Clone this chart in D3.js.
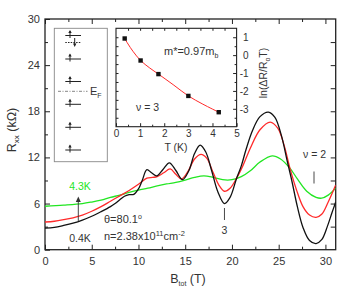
<!DOCTYPE html>
<html lang="en">
<head>
	<meta charset="UTF-8">
	<title>Rxx vs Btot</title>
	<script src="https://cdn.jsdelivr.net/npm/d3@7"></script>
	<style>
		body { margin: 0; background: #fff; }
		text { font-family: "Liberation Sans", Arial, sans-serif; fill: #333; }
		.axis path { stroke: none; fill: none; }
		.axis line { stroke: #222; }
	</style>
</head>
<body>
	<div id="container"></div>
	<script>
		// main traces, B (T) -> Rxx (kOhm)
		var b_black = [0, 1, 2, 3, 4, 5, 6, 7, 7.5, 8, 8.5, 9, 9.5, 10, 10.4, 10.9, 11.4, 11.95, 12.6, 13.3, 14, 14.7, 15.4, 16, 16.6, 17.2, 17.8, 18.5, 19.2, 19.8, 20.5, 21, 21.5, 22.2, 23, 23.9, 24.6, 25.3, 25.9, 26.4, 27, 27.6, 28.3, 29, 29.6, 30.2, 30.7, 31.1];
		var r_black = [2.8, 2.9, 3.15, 3.45, 3.85, 4.35, 4.95, 5.6, 6.0, 6.5, 6.95, 7.15, 7.2, 7.9, 9.0, 10.4, 10.0, 9.6, 10.4, 11.3, 10.3, 9.1, 10.3, 12.5, 13.6, 12.7, 10.4, 7.5, 6.0, 6.8, 9.3, 10.9, 13.0, 15.5, 17.3, 17.9, 17.2, 14.8, 11.6, 9.0, 5.6, 2.9, 1.2, 0.8, 1.3, 3.0, 4.8, 6.2];

		var b_red = [0, 1, 2, 3, 4, 5, 6, 7, 8, 9, 10, 10.9, 11.5, 12, 12.7, 13.4, 14, 14.6, 15.3, 16, 16.7, 17.3, 18, 18.6, 19.2, 19.8, 20.5, 21.2, 22, 23, 24.1, 24.9, 25.6, 26.2, 26.9, 27.6, 28.3, 29, 29.6, 30.3, 31.1];
		var r_red = [3.6, 3.7, 3.9, 4.15, 4.5, 5.0, 5.6, 6.3, 7.0, 7.7, 8.5, 9.3, 9.4, 9.5, 10.0, 10.5, 9.8, 9.2, 10.2, 11.8, 12.4, 11.9, 10.0, 8.4, 7.6, 8.0, 9.3, 11.0, 13.3, 15.6, 16.6, 15.8, 13.5, 10.6, 7.8, 5.6, 4.5, 4.2, 4.6, 6.2, 8.4];

		var b_green = [0, 2, 4, 5, 6, 7, 8, 9, 10, 11, 12, 13, 14, 15, 16, 17, 18, 19, 20, 21, 22, 23, 24.3, 25.2, 26.2, 27, 28, 29, 29.6, 30.3, 31.1];
		var r_green = [5.65, 5.8, 6.0, 6.2, 6.45, 6.8, 7.1, 7.45, 7.75, 8.0, 8.3, 8.55, 8.75, 9.05, 9.4, 9.6, 9.4, 9.1, 9.1, 9.5, 10.3, 11.4, 12.2, 11.8, 10.6, 9.2, 7.6, 6.8, 6.7, 7.1, 8.0];

		// inset: T (K) -> ln(dR/R0T)
		var t_pts = [0.36, 1.02, 1.76, 3.0, 4.26];
		var ln_pts = [0.93, -0.30, -1.06, -2.28, -3.19];
		var t_fit = [0.36, 0.5, 0.7, 1.02, 1.4, 1.76, 2.4, 3.0, 3.6, 4.26];
		var ln_fit = [0.93, 0.62, 0.22, -0.30, -0.72, -1.06, -1.68, -2.28, -2.74, -3.19];

		var x_ticks = [0, 5, 10, 15, 20, 25, 30];
		var y_ticks = [0, 6, 12, 18, 24, 30];
		var tx_ticks = [0, 1, 2, 3, 4, 5];
		var ty_ticks = [1, 0, -1, -2, -3];

		width = 355;
		height = 290;
		var svg = d3.select("#container").append("svg")
				.attr("width", width)
				.attr("height", height);

		var x = d3.scaleLinear().domain([0, 31.1]).range([45, 335.7]);
		var y = d3.scaleLinear().domain([0, 30]).range([249.7, 19]);

		function zip(a, b) { return a.map((d, i) => [d, b[i]]); }
		var plain = d => String(d);

		// main axes, ticks pointing in
		svg.append("g").attr("class", "axis")
				.attr("transform", "translate(0," + y(0) + ")")
				.call(d3.axisBottom(x).tickValues(x_ticks).tickFormat(plain).tickSize(-5).tickPadding(7.5))
				.selectAll("text").style("font-size", "11px");
		svg.append("g").attr("class", "axis")
				.attr("transform", "translate(0," + y(0) + ")")
				.call(d3.axisBottom(x).tickValues(d3.range(2.5, 31, 5)).tickSize(-3).tickFormat(""));
		svg.append("g").attr("class", "axis")
				.attr("transform", "translate(0," + y(30) + ")")
				.call(d3.axisTop(x).tickValues(x_ticks).tickSize(-5).tickFormat(""));
		svg.append("g").attr("class", "axis")
				.attr("transform", "translate(0," + y(30) + ")")
				.call(d3.axisTop(x).tickValues(d3.range(2.5, 31, 5)).tickSize(-3).tickFormat(""));

		svg.append("g").attr("class", "axis")
				.attr("transform", "translate(" + x(0) + ",0)")
				.call(d3.axisLeft(y).tickValues(y_ticks).tickFormat(plain).tickSize(-5).tickPadding(5))
				.selectAll("text").style("font-size", "11px");
		svg.append("g").attr("class", "axis")
				.attr("transform", "translate(" + x(0) + ",0)")
				.call(d3.axisLeft(y).tickValues(d3.range(3, 30, 6)).tickSize(-3).tickFormat(""));
		svg.append("g").attr("class", "axis")
				.attr("transform", "translate(" + x(31.1) + ",0)")
				.call(d3.axisRight(y).tickValues(d3.range(3, 30, 3)).tickSize(-5).tickFormat(""));

		svg.append("rect")
				.attr("x", x(0)).attr("y", y(30))
				.attr("width", x(31.1) - x(0)).attr("height", y(0) - y(30))
				.attr("fill", "none").attr("stroke", "#222").attr("stroke-width", 1.3);

		// curves
		var line = d3.line()
				.x(d => x(d[0]))
				.y(d => y(d[1]))
				.curve(d3.curveCatmullRom);

		svg.append("clipPath").attr("id", "clip")
				.append("rect")
				.attr("x", x(0)).attr("y", y(30))
				.attr("width", x(31.1) - x(0)).attr("height", y(0) - y(30));

		var traces = [
			{ pts: zip(b_green, r_green), color: "#22e622" },
			{ pts: zip(b_red, r_red), color: "#ff2a2a" },
			{ pts: zip(b_black, r_black), color: "#111" }
		];
		svg.append("g").attr("clip-path", "url(#clip)")
			.selectAll(".trace").data(traces)
			.enter().append("path")
				.attr("class", "trace")
				.attr("d", d => line(d.pts))
				.attr("fill", "none")
				.attr("stroke", d => d.color)
				.attr("stroke-width", 1.3);

		// axis labels
		var yl = svg.append("text")
				.attr("transform", "translate(16,130) rotate(-90)")
				.attr("text-anchor", "middle")
				.style("font-size", "12.5px");
		yl.append("tspan").text("R");
		yl.append("tspan").attr("dy", 3).style("font-size", "8px").text("xx");
		yl.append("tspan").attr("dy", -3).text(" (k\u03A9)");

		var xl = svg.append("text")
				.attr("x", 188).attr("y", 282.5)
				.attr("text-anchor", "middle")
				.style("font-size", "12.5px");
		xl.append("tspan").text("B");
		xl.append("tspan").attr("dy", 3).style("font-size", "7px").text("tot");
		xl.append("tspan").attr("dy", -3).text(" (T)");

		// annotations
		svg.append("text").attr("x", 80).attr("y", 190)
				.attr("text-anchor", "middle").style("font-size", "10.5px")
				.style("fill", "#22e622").text("4.3K");
		svg.append("text").attr("x", 80).attr("y", 241.5)
				.attr("text-anchor", "middle").style("font-size", "10.5px").text("0.4K");
		svg.append("line").attr("x1", 78.3).attr("x2", 78.3).attr("y1", 200).attr("y2", 221)
				.attr("stroke", "#333").attr("stroke-width", 0.9);
		svg.append("path").attr("d", "M75.8,202 L78.3,196.5 L80.8,202 Z").attr("fill", "#333");

		var th = svg.append("text").attr("x", 104).attr("y", 222.5).style("font-size", "11px");
		th.append("tspan").text("\u03B8=80.1");
		th.append("tspan").attr("dy", -4).style("font-size", "7px").text("o");
		var nn = svg.append("text").attr("x", 104).attr("y", 239.5).style("font-size", "11px");
		nn.append("tspan").text("n=2.38x10");
		nn.append("tspan").attr("dy", -4).style("font-size", "7.5px").text("11");
		nn.append("tspan").attr("dy", 4).text("cm");
		nn.append("tspan").attr("dy", -4).style("font-size", "7.5px").text("-2");

		svg.append("line").attr("x1", x(19.2)).attr("x2", x(19.2)).attr("y1", 208).attr("y2", 220)
				.attr("stroke", "#333").attr("stroke-width", 0.9);
		svg.append("text").attr("x", x(19.2)).attr("y", 233.5)
				.attr("text-anchor", "middle").style("font-size", "10.5px").text("3");

		svg.append("text").attr("x", 314.5).attr("y", 158)
				.attr("text-anchor", "middle").style("font-size", "10.5px").text("\u03BD = 2");
		svg.append("line").attr("x1", 314).attr("x2", 314).attr("y1", 171.5).attr("y2", 183.5)
				.attr("stroke", "#333").attr("stroke-width", 0.9);

		// level diagram
		svg.append("rect").attr("x", 54.3).attr("y", 28.3).attr("width", 53).attr("height", 133.4)
				.attr("fill", "#fff").attr("stroke", "#888").attr("stroke-width", 0.9);
		var levels = [35.5, 59, 81.5, 104.3, 127.3, 150];
		svg.selectAll(".lev").data(levels).enter().append("line")
				.attr("class", "lev")
				.attr("x1", 65.3).attr("x2", 81).attr("y1", d => d).attr("y2", d => d)
				.attr("stroke", "#222").attr("stroke-width", 1);
		svg.selectAll(".spin").data(levels).enter().append("line")
				.attr("class", "spin")
				.attr("x1", 70).attr("x2", 70).attr("y1", d => d - 4.5).attr("y2", d => d + 2.5)
				.attr("stroke", "#222").attr("stroke-width", 1);
		svg.selectAll(".spinhead").data(levels).enter().append("path")
				.attr("class", "spinhead")
				.attr("d", d => "M68.3," + (d - 2.5) + " L70," + (d - 5.5) + " L71.7," + (d - 2.5) + " Z")
				.attr("fill", "#222");
		// second spin on top level
		svg.append("line").attr("x1", 65.3).attr("x2", 81).attr("y1", 42.5).attr("y2", 42.5)
				.attr("stroke", "#222").attr("stroke-width", 1).attr("stroke-dasharray", "1.5,1.2");
		svg.append("line").attr("x1", 74.7).attr("x2", 74.7).attr("y1", 38).attr("y2", 44.5)
				.attr("stroke", "#222").attr("stroke-width", 1);
		svg.append("path").attr("d", "M73,43.5 L74.7,47 L76.4,43.5 Z").attr("fill", "#222");
		svg.append("line").attr("x1", 58).attr("x2", 87.5).attr("y1", 91.3).attr("y2", 91.3)
				.attr("stroke", "#666").attr("stroke-width", 0.8).attr("stroke-dasharray", "3,1.5,1,1.5");
		var ef = svg.append("text").attr("x", 90).attr("y", 95).style("font-size", "11px");
		ef.append("tspan").text("E");
		ef.append("tspan").attr("dy", 2.5).style("font-size", "7px").text("F");

		// inset
		var tx = d3.scaleLinear().domain([0, 5]).range([116, 236.6]);
		var ty = d3.scaleLinear().domain([-4, 1.5]).range([126.7, 28.3]);

		svg.append("rect").attr("x", tx(0)).attr("y", ty(1.5))
				.attr("width", tx(5) - tx(0)).attr("height", ty(-4) - ty(1.5))
				.attr("fill", "#fff").attr("stroke", "#222").attr("stroke-width", 1.1);

		svg.append("g").attr("class", "axis")
				.attr("transform", "translate(0," + ty(-4) + ")")
				.call(d3.axisBottom(tx).tickValues(tx_ticks).tickFormat(plain).tickSize(-3.5).tickPadding(3))
				.selectAll("text").style("font-size", "10px");
		svg.append("g").attr("class", "axis")
				.attr("transform", "translate(0," + ty(-4) + ")")
				.call(d3.axisBottom(tx).tickValues(d3.range(0.5, 5, 1)).tickSize(-2).tickFormat(""));
		svg.append("g").attr("class", "axis")
				.attr("transform", "translate(0," + ty(1.5) + ")")
				.call(d3.axisTop(tx).tickValues(d3.range(0.5, 5, 0.5)).tickSize(-2.5).tickFormat(""));
		svg.append("g").attr("class", "axis")
				.attr("transform", "translate(" + tx(0) + ",0)")
				.call(d3.axisLeft(ty).tickValues(d3.range(-3.5, 1.5, 0.5)).tickSize(-2.5).tickFormat(""));
		svg.append("g").attr("class", "axis")
				.attr("transform", "translate(" + tx(5) + ",0)")
				.call(d3.axisRight(ty).tickValues(ty_ticks).tickFormat(plain).tickSize(-3.5).tickPadding(12))
				.selectAll("text").style("font-size", "10px").attr("text-anchor", "end");
		svg.append("g").attr("class", "axis")
				.attr("transform", "translate(" + tx(5) + ",0)")
				.call(d3.axisRight(ty).tickValues(d3.range(-3.5, 1.5, 1)).tickSize(-2).tickFormat(""));

		svg.append("path")
				.attr("d", d3.line().x(d => tx(d[0])).y(d => ty(d[1])).curve(d3.curveCatmullRom)(zip(t_fit, ln_fit)))
				.attr("fill", "none").attr("stroke", "#ff2a2a").attr("stroke-width", 1);
		svg.selectAll(".ipt").data(zip(t_pts, ln_pts)).enter().append("rect")
				.attr("class", "ipt")
				.attr("x", d => tx(d[0]) - 2.2).attr("y", d => ty(d[1]) - 2.2)
				.attr("width", 4.4).attr("height", 4.4).attr("fill", "#111");

		var ml = svg.append("text").attr("x", 164).attr("y", 55).style("font-size", "11px");
		ml.append("tspan").text("m*=0.97m");
		ml.append("tspan").attr("dy", 2.5).style("font-size", "7px").text("b");
		svg.append("text").attr("x", 136).attr("y", 110.5).style("font-size", "10.5px").text("\u03BD = 3");

		svg.append("text").attr("x", 176).attr("y", 151)
				.attr("text-anchor", "middle").style("font-size", "10.5px").text("T (K)");
		var il = svg.append("text")
				.attr("transform", "translate(267,73) rotate(-90)")
				.attr("text-anchor", "middle").style("font-size", "10.5px");
		il.append("tspan").text("ln(\u0394R/R");
		il.append("tspan").attr("dy", 2.5).style("font-size", "7px").text("o");
		il.append("tspan").attr("dy", -2.5).text("T)");
	</script>
</body>
</html>
